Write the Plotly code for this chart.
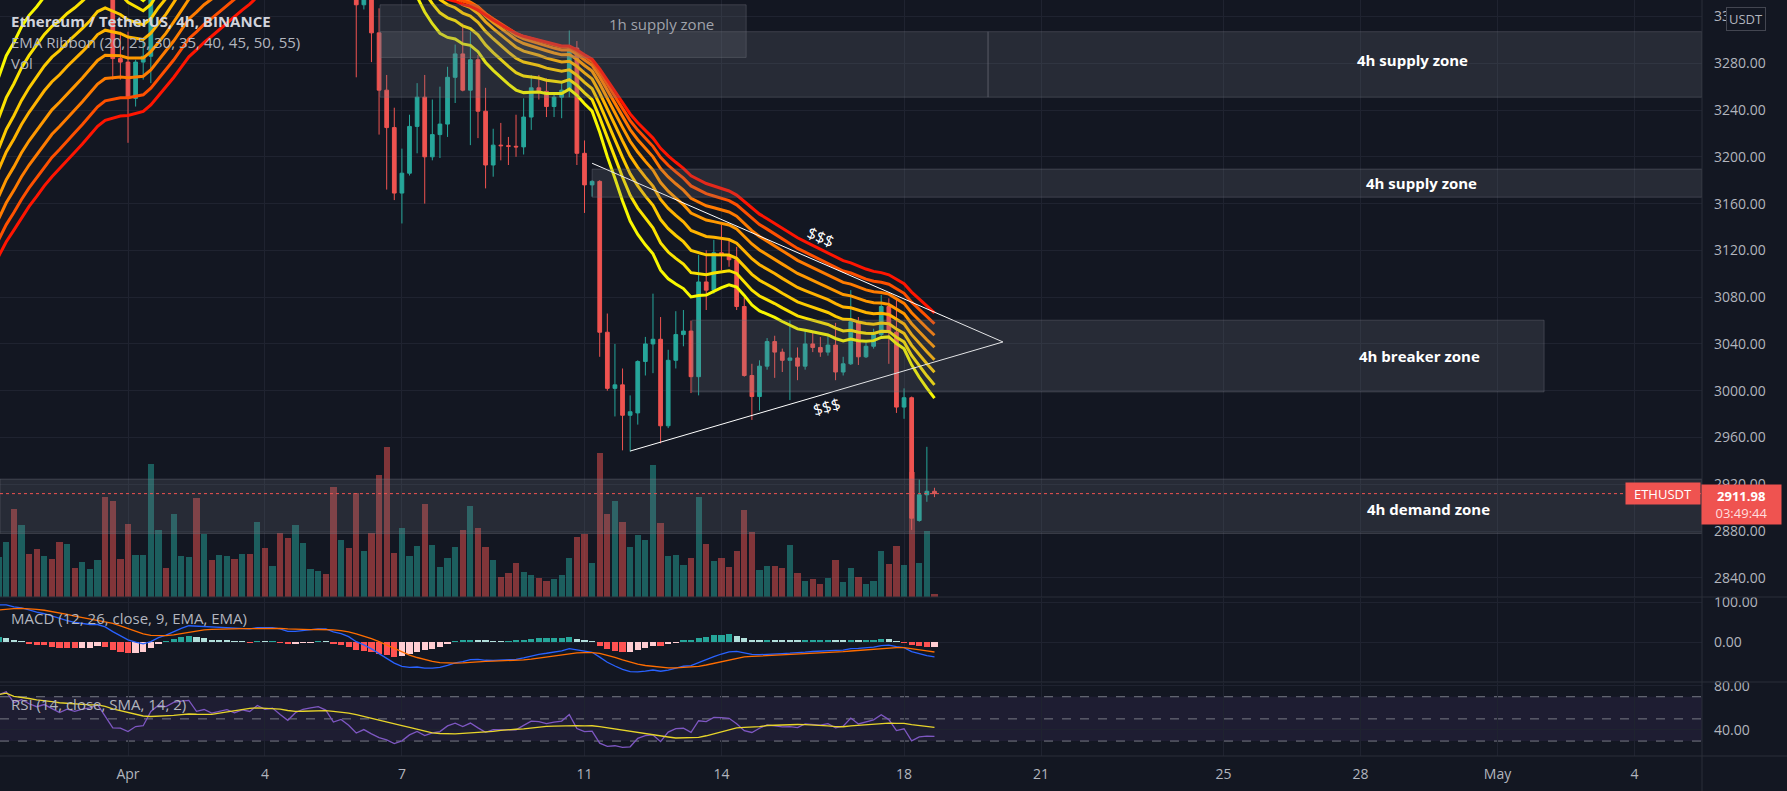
import numpy as np
import pandas as pd
import plotly.graph_objects as go
from plotly.subplots import make_subplots

# ---------------- data: ETHUSDT 4h candles (Binance) ----------------
first_candle = "2022-03-29 04:00"
opens = [3395, 3425, 3462, 3405, 3438, 3415, 3398, 3418, 3395, 3372, 3398, 3386, 3402, 3412, 3438, 3372,
         3284, 3281, 3250, 3281, 3286, 3395, 3462, 3452, 3500, 3515, 3525, 3452, 3470, 3444, 3460, 3475,
         3455, 3480, 3470, 3523, 3500, 3510, 3470, 3430, 3490, 3521, 3535, 3545, 3525, 3440, 3460, 3411,
         3330, 3355, 3306, 3257, 3225, 3169, 3186, 3226, 3251, 3200, 3219, 3228, 3268, 3288, 3257, 3283,
         3239, 3193, 3210, 3209.5, 3209, 3208.5, 3234, 3259, 3256, 3243, 3251, 3257, 3293, 3203, 3176, 3179,
         3050, 3002, 3005, 2979, 2981, 3025, 3040, 3044, 2970, 3026, 3048, 3051, 3012, 3093, 3086, 3118,
         3116, 3112, 3072, 3013, 2995, 3021, 3042, 3033, 3026, 3028, 3021, 3040, 3037, 3033, 3039, 3016,
         3023, 3059, 3029, 3038, 3048, 3072, 3050, 2986, 2994, 2889, 2911, 2914]
highs = [3440, 3480, 3470, 3450, 3445, 3425, 3425, 3422, 3402, 3405, 3405, 3410, 3420, 3446, 3442, 3380,
         3307, 3307, 3283, 3300, 3405, 3470, 3468, 3510, 3525, 3532, 3528, 3478, 3475, 3468, 3482, 3480,
         3488, 3486, 3535, 3545, 3518, 3514, 3476, 3498, 3528, 3540, 3555, 3548, 3530, 3468, 3465, 3418,
         3372, 3362, 3327, 3270, 3242, 3207, 3236, 3263, 3270, 3249, 3260, 3277, 3296, 3314, 3307, 3287,
         3259, 3224, 3229, 3217, 3236, 3250, 3270, 3270, 3267, 3253, 3263, 3308, 3299, 3214, 3180, 3180,
         3066, 3040, 3019, 2996, 3026, 3046, 3083, 3063, 3035, 3068, 3069, 3060, 3116, 3120, 3129, 3142,
         3130, 3123, 3080, 3023, 3026, 3045, 3047, 3036, 3060, 3037, 3052, 3050, 3046, 3048, 3058, 3029,
         3086, 3063, 3041, 3053, 3082, 3079, 3078, 3002, 2995, 2924, 2952, 2917]
lows = [3385, 3415, 3395, 3398, 3405, 3380, 3390, 3385, 3355, 3365, 3378, 3380, 3395, 3405, 3360, 3266,
        3266, 3212, 3243, 3266, 3263, 3390, 3440, 3448, 3490, 3505, 3440, 3445, 3435, 3438, 3452, 3448,
        3450, 3462, 3465, 3490, 3492, 3462, 3410, 3425, 3485, 3515, 3528, 3515, 3425, 3432, 3405, 3268,
        3326, 3281, 3219, 3172, 3163, 3143, 3184, 3203, 3160, 3197, 3199, 3217, 3246, 3256, 3210, 3216,
        3173, 3183, 3197, 3193, 3200, 3202, 3223, 3249, 3234, 3234, 3233, 3251, 3193, 3152, 3166, 3029,
        3000, 2978, 2949, 2948, 2971, 3013, 3015, 2955, 2968, 3019, 3038, 2998, 2996, 3069, 3083, 3103,
        3106, 3069, 3012, 2975, 2983, 3018, 3011, 3016, 2992, 3009, 3018, 3033, 3029, 3030, 3009, 3013,
        3022, 3022, 3028, 3036, 3046, 3023, 2981, 2976, 2881, 2888, 2905, 2909]
closes = [3425, 3462, 3405, 3438, 3415, 3398, 3418, 3395, 3372, 3398, 3386, 3402, 3412, 3438, 3372, 3284,
          3281, 3250, 3281, 3286, 3395, 3462, 3452, 3500, 3515, 3525, 3452, 3470, 3444, 3460, 3475, 3455,
          3480, 3470, 3523, 3500, 3510, 3470, 3430, 3490, 3521, 3535, 3545, 3525, 3440, 3460, 3411, 3330,
          3355, 3306, 3257, 3225, 3169, 3186, 3226, 3251, 3200, 3219, 3228, 3268, 3288, 3257, 3283, 3239,
          3193, 3210, 3209.5, 3209, 3208.5, 3234, 3259, 3256, 3243, 3251, 3257, 3293, 3203, 3176, 3179, 3050,
          3002, 3005, 2979, 2982, 3025, 3040, 3044, 2970, 3026, 3048, 3051, 3012, 3093, 3086, 3118, 3116,
          3112, 3072, 3013, 2995, 3021, 3042, 3033, 3026, 3028, 3021, 3040, 3037, 3033, 3039, 3016, 3023,
          3059, 3029, 3038, 3048, 3072, 3050, 2986, 2994, 2891, 2911, 2914, 2911.98]
volumes_k = [60, 83, 132, 108, 65, 72, 62, 57, 83, 80, 44, 53, 42, 56, 150, 144,
             57, 110, 63, 63, 200, 100, 44, 125, 62, 60, 149, 94, 55, 63, 62, 57,
             64, 64, 113, 74, 47, 96, 89, 108, 81, 42, 39, 35, 165, 86, 74, 156,
             69, 96, 183, 225, 66, 104, 61, 76, 140, 78, 45, 59, 75, 101, 137, 104,
             75, 56, 30, 36, 51, 38, 33, 29, 24, 27, 33, 59, 90, 95, 51, 216,
             125, 144, 113, 75, 93, 86, 198, 111, 62, 63, 48, 59, 150, 80, 54, 59,
             45, 69, 131, 98, 41, 47, 47, 44, 78, 36, 24, 27, 20, 29, 56, 23,
             44, 30, 20, 24, 69, 50, 77, 48, 188, 51, 99, 5]

# indicator settings and their state at the first candle
ribbon_lengths = [20, 25, 30, 35, 40, 45, 50, 55]
ribbon_seed = [3268, 3233, 3207, 3189, 3166, 3147, 3129, 3115]
ribbon_colors = ["#f8f800", "#fbe200", "#fdcb00", "#ffb300", "#ff9800", "#ff7b00", "#ff5000", "#ff1500"]
macd_fast, macd_slow, macd_signal = 12, 26, 9
macd_seed = (3370.0, 3277.5, 80.0)
rsi_length, rsi_ma_length = 14, 14
rsi_seed = (20.0, 7.8)

# drawings: zone rectangles (None = chart edge)
zone_start = ["2022-04-06 12:30", "2022-04-06 12:30", "2022-04-19 20:10", "2022-04-11 04:00",
              "2022-04-13 08:30", None]
zone_end = ["2022-04-14 13:00", "2022-04-19 20:10", None, None, "2022-05-02 00:30", None]
zone_low = [3285, 3251, 3251, 3165.5, 2999, 2878]
zone_high = [3330, 3307, 3307, 3189.5, 3060.3, 2924.4]
label_text = ["1h supply zone", "4h supply zone", "4h supply zone", "4h breaker zone", "4h demand zone"]
label_time = ["2022-04-12 16:15", "2022-04-29 03:30", "2022-04-29 08:15", "2022-04-29 07:10", "2022-04-29 11:30"]
label_price = [3314, 3283, 3177.5, 3030, 2899]
tri_upper_t = ["2022-04-11 04:00", "2022-04-20 04:00"]
tri_upper_p = [3194.5, 3041.7]
tri_lower_t = ["2022-04-12 00:00", "2022-04-20 04:00"]
tri_lower_p = [2948.4, 3041.7]
last_price = 2911.98

date_ticks = ["2022-04-01", "2022-04-04", "2022-04-07", "2022-04-11", "2022-04-14", "2022-04-18",
              "2022-04-21", "2022-04-25", "2022-04-28", "2022-05-01", "2022-05-04"]
date_tick_text = ["Apr", "4", "7", "11", "14", "18", "21", "25", "28", "May", "4"]
price_ticks = [2840, 2880, 2920, 2960, 3000, 3040, 3080, 3120, 3160, 3200, 3240, 3280, 3320]

# ---------------- indicators ----------------
times = pd.date_range(first_candle, periods=len(closes), freq="4h")
c = np.array(closes, dtype=float)


def ema(values, length, seed):
    a = 2.0 / (length + 1)
    out = np.empty(len(values))
    out[0] = seed
    for i in range(1, len(values)):
        out[i] = out[i - 1] + a * (values[i] - out[i - 1])
    return out


ribbon = [ema(c, n, s) for n, s in zip(ribbon_lengths, ribbon_seed)]
macd_line = ema(c, macd_fast, macd_seed[0]) - ema(c, macd_slow, macd_seed[1])
signal_line = ema(macd_line, macd_signal, macd_seed[2])
hist = macd_line - signal_line

ag, al = rsi_seed
rsi = np.empty(len(c))
rsi[0] = 100 - 100 / (1 + ag / al)
for i in range(1, len(c)):
    d = c[i] - c[i - 1]
    ag = (ag * (rsi_length - 1) + max(d, 0)) / rsi_length
    al = (al * (rsi_length - 1) + max(-d, 0)) / rsi_length
    rsi[i] = 100 - 100 / (1 + ag / al)
rsi_ma = pd.Series(rsi).rolling(rsi_ma_length, min_periods=1).mean().values

# ---------------- styling ----------------
BG = "#131722"
GRID = "#1f2330"
TXT = "#b2b5be"
UP, DN = "#26a69a", "#ef5350"
FONT = "Open Sans"
W, H = 1787, 791
PL, PR, PT, PB = 0, 85, 0, 35
pw, ph = W - PL - PR, H - PT - PB
x_left = pd.Timestamp("2022-03-29 04:42:22")
x_right = pd.Timestamp("2022-05-05 11:31:00")
bar_w = 4 * 3600 * 1000 * 0.82

fig = make_subplots(rows=3, cols=1, shared_xaxes=True,
                    specs=[[{"secondary_y": True}], [{}], [{}]])

# volume (primary, hidden axis) below the price traces
vol_colors = ["rgba(38,166,154,0.5)" if cl >= op else "rgba(239,83,80,0.5)" for op, cl in zip(opens, closes)]
fig.add_trace(go.Bar(x=times, y=volumes_k, marker=dict(color=vol_colors, line_width=0), width=bar_w,
                     hoverinfo="skip"), row=1, col=1, secondary_y=False)

for vals, col in zip(ribbon, ribbon_colors):
    fig.add_trace(go.Scatter(x=times, y=vals, mode="lines", line=dict(color=col, width=3),
                             hoverinfo="skip"), row=1, col=1, secondary_y=True)

fig.add_trace(go.Candlestick(x=times, open=opens, high=highs, low=lows, close=closes,
                             increasing=dict(line=dict(color=UP, width=1), fillcolor=UP),
                             decreasing=dict(line=dict(color=DN, width=1), fillcolor=DN),
                             whiskerwidth=0), row=1, col=1, secondary_y=True)

for tt, pp in ((tri_upper_t, tri_upper_p), (tri_lower_t, tri_lower_p)):
    fig.add_trace(go.Scatter(x=pd.to_datetime(tt), y=pp, mode="lines",
                             line=dict(color="#ffffff", width=1), hoverinfo="skip"),
                  row=1, col=1, secondary_y=True)

# MACD
hcol = []
for i, hv in enumerate(hist):
    prev = hist[i - 1] if i > 0 else hv
    if hv >= 0:
        hcol.append("#26a69a" if hv >= prev else "#b2dfdb")
    else:
        hcol.append("#ff5252" if hv <= prev else "#ffcdd2")
fig.add_trace(go.Bar(x=times, y=hist, marker=dict(color=hcol, line_width=0), width=bar_w), row=2, col=1)
fig.add_trace(go.Scatter(x=times, y=macd_line, mode="lines", line=dict(color="#2962ff", width=1.3)), row=2, col=1)
fig.add_trace(go.Scatter(x=times, y=signal_line, mode="lines", line=dict(color="#ff6d00", width=1.3)), row=2, col=1)

# RSI
fig.add_trace(go.Scatter(x=times, y=rsi, mode="lines", line=dict(color="#7e57c2", width=1.3)), row=3, col=1)
fig.add_trace(go.Scatter(x=times, y=rsi_ma, mode="lines", line=dict(color="#e8d52a", width=1.3)), row=3, col=1)

main_bottom = 1 - 597 / ph
macd_top, macd_bottom = 1 - 598 / ph, 1 - 682 / ph
rsi_top = 1 - 683 / ph

fig.update_layout(
    width=W, height=H, margin=dict(l=PL, r=PR, t=PT, b=PB, autoexpand=False),
    paper_bgcolor=BG, plot_bgcolor=BG, showlegend=False, hovermode=False,
    font=dict(family=FONT, color=TXT, size=14), bargap=0,
    yaxis=dict(domain=[main_bottom, 1], range=[0, 597 * 1.5], visible=False, fixedrange=True,
               automargin=False),
    yaxis2=dict(range=[2823.6, 3334.1], side="right", tickvals=price_ticks, automargin=False,
                ticktext=[f"{v:.2f}" for v in price_ticks], showgrid=True, gridcolor=GRID,
                zeroline=False, ticks="", ticklabelstandoff=11, tickfont=dict(size=14, color=TXT)),
    yaxis3=dict(domain=[macd_bottom, macd_top], range=[-100, 110], side="right", tickvals=[0, 100],
                ticktext=["0.00", "100.00"], showgrid=True, gridcolor=GRID, zeroline=False, ticks="",
                ticklabelstandoff=11, automargin=False),
    yaxis4=dict(domain=[0, rsi_top], range=[16.5, 82.4], side="right", tickvals=[40, 80],
                ticktext=["40.00", "80.00"], showgrid=True, gridcolor=GRID, zeroline=False, ticks="",
                ticklabelstandoff=11, automargin=False),
)
for ax in ("xaxis", "xaxis2", "xaxis3"):
    fig.layout[ax].update(domain=[0, 1], range=[x_left, x_right], tickvals=pd.to_datetime(date_ticks),
                          ticktext=date_tick_text, showgrid=True, gridcolor=GRID, zeroline=False, ticks="",
                          rangeslider=dict(visible=False), showline=False, automargin=False)
fig.layout.xaxis.showticklabels = False
fig.layout.xaxis2.showticklabels = False
fig.layout.xaxis3.update(showticklabels=True, ticklabelstandoff=8, tickfont=dict(size=14, color=TXT))

shapes = []
# zones
for t0, t1, lo, hi in zip(zone_start, zone_end, zone_low, zone_high):
    shapes.append(dict(type="rect", xref="x", yref="y2", x0=pd.Timestamp(t0) if t0 else x_left,
                       x1=pd.Timestamp(t1) if t1 else x_right, y0=lo, y1=hi,
                       fillcolor="rgba(120,123,134,0.2)", line=dict(color="rgba(120,123,134,0.35)", width=1),
                       layer="above"))
# last price line
shapes.append(dict(type="line", xref="x", yref="y2", x0=x_left, x1=x_right, y0=last_price, y1=last_price,
                   line=dict(color=DN, width=1, dash="dot"), layer="above"))
# RSI band
shapes.append(dict(type="rect", xref="x3", yref="y4", x0=x_left, x1=x_right, y0=30, y1=70,
                   fillcolor="rgba(126,87,194,0.1)", line_width=0, layer="below"))
for lv in (70, 50, 30):
    shapes.append(dict(type="line", xref="x3", yref="y4", x0=x_left, x1=x_right, y0=lv, y1=lv,
                       line=dict(color="#787b86", width=1, dash="dash"), layer="below"))
# pane separators and axis borders
for yy in (main_bottom, macd_bottom, 0):
    shapes.append(dict(type="line", xref="paper", yref="paper", x0=0, x1=W / pw, y0=yy, y1=yy,
                       line=dict(color="#2a2e39", width=1)))
shapes.append(dict(type="line", xref="paper", yref="paper", x0=1, x1=1, y0=-PB / ph, y1=1,
                   line=dict(color="#2a2e39", width=1)))
fig.update_layout(shapes=shapes)

ann = []


def txt(x_px, y_px, s, size=15, color=TXT, anchor="left"):
    ann.append(dict(xref="paper", yref="paper", x=x_px / pw, y=1 - y_px / ph, text=s, showarrow=False,
                    xanchor=anchor, yanchor="middle", font=dict(size=size, color=color, family=FONT)))


txt(9, 21, "<b>Ethereum / TetherUS, 4h, BINANCE</b>", 15, "#d1d4dc")
txt(9, 42, "EMA Ribbon (20, 25, 30, 35, 40, 45, 50, 55)", 15)
txt(9, 63, "Vol", 15)
txt(9, 618, "MACD (12, 26, close, 9, EMA, EMA)", 15)
txt(9, 704, "RSI (14, close, SMA, 14, 2)", 15)

# zone labels
for i, (lab, xl, yl) in enumerate(zip(label_text, label_time, label_price)):
    ann.append(dict(xref="x", yref="y2", x=pd.Timestamp(xl), y=yl, text=f"<b>{lab}</b>" if i else lab,
                    showarrow=False, xanchor="center", yanchor="middle",
                    font=dict(size=15, color="#ffffff" if i else "#a0a3ab", family=FONT)))
ann.append(dict(xref="x", yref="y2", x=pd.Timestamp("2022-04-16 04:00"), y=3131.4, text="$$$", textangle=23,
                showarrow=False, xanchor="center", yanchor="middle",
                font=dict(size=16, color="#ffffff", family=FONT)))
ann.append(dict(xref="x", yref="y2", x=pd.Timestamp("2022-04-16 07:00"), y=2986.2, text="$$$", textangle=-15,
                showarrow=False, xanchor="center", yanchor="middle",
                font=dict(size=16, color="#ffffff", family=FONT)))

# price badges
ann.append(dict(xref="paper", yref="y2", x=1663 / pw, y=last_price, text="ETHUSDT", showarrow=False,
                xanchor="center", yanchor="middle", bgcolor=DN,
                font=dict(size=13, color="#ffffff", family=FONT), width=72, height=19))
ann.append(dict(xref="paper", yref="paper", x=1741.5 / pw, y=1 - 504 / ph, xanchor="center", yanchor="middle",
                text="<b>2911.98</b><br><span style='color:#ffdede'>03:49:44</span>", showarrow=False,
                bgcolor=DN, font=dict(size=13, color="#ffffff", family=FONT), width=77, height=37))
ann.append(dict(xref="paper", yref="paper", x=1746 / pw, y=1 - 19 / ph, text="USDT", showarrow=False,
                xanchor="center", yanchor="middle", bgcolor=BG, bordercolor="#434651", borderwidth=1,
                borderpad=2, font=dict(size=13, color=TXT, family=FONT)))
fig.update_layout(annotations=ann)

fig.write_html("out.html")
